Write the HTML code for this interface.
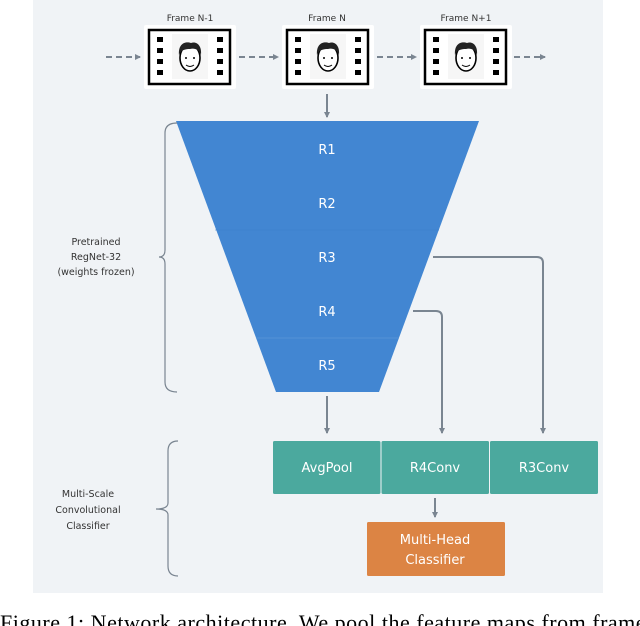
<!DOCTYPE html>
<html><head><style>
body{margin:0;width:640px;height:626px;overflow:hidden;background:#fff;font-family:"DejaVu Sans","Liberation Sans",sans-serif;}
</style></head><body>
<svg width="640" height="626" xmlns="http://www.w3.org/2000/svg" style="position:absolute;left:0;top:0">
<defs>
<marker id="ah" markerWidth="6" markerHeight="6" refX="5" refY="3" orient="auto" markerUnits="userSpaceOnUse"><path d="M0,0 L6,3 L0,6 z" fill="#7a8591"/></marker>
<g id="fr">
<rect x="0" y="0" width="92" height="64" rx="2" fill="#fff"/>
<rect x="5" y="5" width="81" height="54" fill="none" stroke="#000" stroke-width="2.5"/>
<rect x="28" y="9" width="36" height="45" fill="#f6f6f6"/>
<g fill="#000"><rect x="13" y="12" width="6" height="5"/><rect x="13" y="23" width="6" height="5"/><rect x="13" y="34" width="6" height="5"/><rect x="13" y="45" width="6" height="5"/>
<rect x="73" y="12" width="6" height="5"/><rect x="73" y="23" width="6" height="5"/><rect x="73" y="34" width="6" height="5"/><rect x="73" y="45" width="6" height="5"/></g>
<ellipse cx="46" cy="33" rx="10" ry="13" fill="#fff" stroke="#000" stroke-width="1.6"/>
<path d="M35,30 C34,18 42,16 47,18 C53,16 58,21 57,30 C55,24 50,23 46,24 C41,24 37,25 35,30z" fill="#222"/>
<circle cx="42" cy="33" r="1" fill="#000"/><circle cx="50" cy="33" r="1" fill="#000"/>
<path d="M42,40 Q46,43 50,40" fill="none" stroke="#000" stroke-width="1"/>
</g>
</defs>
<rect x="33" y="0" width="570" height="593" fill="#f0f3f6"/>
<g font-size="9" fill="#333" text-anchor="middle">
<text x="190" y="21">Frame N-1</text><text x="327" y="21">Frame N</text><text x="466" y="21">Frame N+1</text>
</g>
<use href="#fr" x="144" y="25"/><use href="#fr" x="282" y="25"/><use href="#fr" x="420" y="25"/>
<g stroke="#7a8591" stroke-width="2" stroke-dasharray="6,4" fill="none" marker-end="url(#ah)">
<line x1="106" y1="57" x2="140" y2="57"/><line x1="239" y1="57" x2="278" y2="57"/><line x1="377" y1="57" x2="416" y2="57"/><line x1="514" y1="57" x2="545" y2="57"/>
</g>
<g stroke="#7a8591" stroke-width="2" fill="none" marker-end="url(#ah)">
<line x1="327" y1="94" x2="327" y2="117"/>
<line x1="327" y1="396" x2="327" y2="433"/>
<path d="M413,311 H436 Q442,311 442,317 V433"/>
<path d="M433,257 H537 Q543,257 543,263 V433"/>
<line x1="435" y1="498" x2="435" y2="517"/>
</g>
<polygon points="176,121 479,121 379,392 276,392" fill="#4286d2"/>
<line x1="215" y1="230" x2="439" y2="230" stroke="#3d7fc8" stroke-width="0.6"/>
<line x1="256" y1="338" x2="399" y2="338" stroke="#5b96d8" stroke-width="0.8"/>
<g font-size="13" fill="#fff" text-anchor="middle">
<text x="327" y="154">R1</text><text x="327" y="208">R2</text><text x="327" y="262">R3</text><text x="327" y="316">R4</text><text x="327" y="370">R5</text>
</g>
<g fill="#4ba99e"><rect x="273" y="441" width="107.5" height="53" rx="1.5"/><rect x="381.5" y="441" width="107.5" height="53" rx="1.5"/><rect x="490" y="441" width="108" height="53" rx="1.5"/></g>
<rect x="367" y="522" width="138" height="54" rx="1.5" fill="#dc8444"/>
<g font-size="13" fill="#fff" text-anchor="middle">
<text x="327" y="472">AvgPool</text><text x="435" y="472">R4Conv</text><text x="544" y="472">R3Conv</text>
<text x="435" y="544">Multi-Head</text><text x="435" y="564">Classifier</text>
</g>
<g stroke="#7a8591" stroke-width="1.2" fill="none">
<path d="M177,123 Q165,123 165,133 V250 Q165,257 159,257 Q165,257 165,264 V382 Q165,392 177,392"/>
<path d="M178,441 Q168,441 168,451 V503 Q168,509 156,509 Q168,509 168,515 V566 Q168,576 178,576"/>
</g>
<g font-size="9.5" fill="#333" text-anchor="middle">
<text x="96" y="245">Pretrained</text><text x="96" y="260">RegNet-32</text><text x="96" y="275">(weights frozen)</text>
<text x="88" y="497">Multi-Scale</text><text x="88" y="513">Convolutional</text><text x="88" y="529">Classifier</text>
</g>
<text x="0" y="630" font-family="Liberation Serif,serif" font-size="22" fill="#000" textLength="680">Figure 1:  Network architecture.  We pool the feature maps from frames of</text>
</svg>
</body></html>
